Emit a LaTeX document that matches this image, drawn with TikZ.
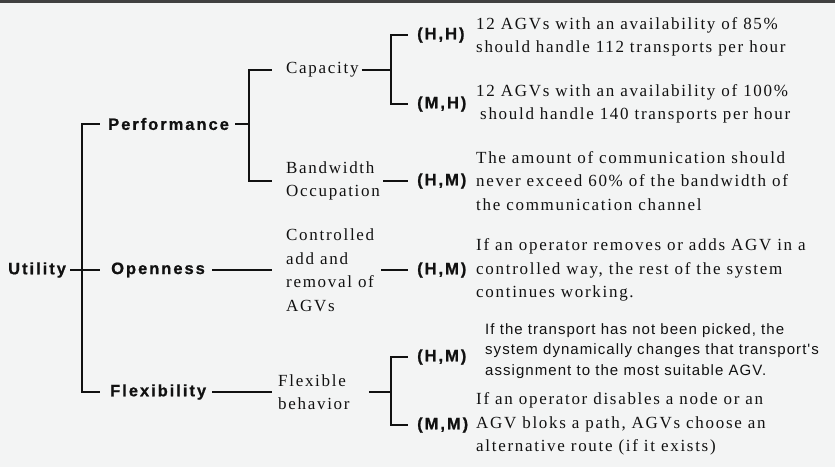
\documentclass[tikz,border=0pt]{standalone}
\usepackage{fontspec}
\setmainfont{Liberation Serif}
\newfontfamily\spacedserif[LetterSpace=10]{Liberation Serif}
\newfontfamily\spacedsans[LetterSpace=12, BoldFeatures={FakeBold=0.8}]{Liberation Sans}
\newfontfamily\plainsans[LetterSpace=7]{Liberation Sans}
\definecolor{paper}{HTML}{F3F4F4}
\definecolor{ink}{HTML}{111111}

\begin{document}
\begin{tikzpicture}[x=1pt, y=-1pt,
    wire/.style={line width=1.7pt, draw=ink},
    crit/.style={inner sep=0pt, anchor=west, text=ink, font=\spacedsans\bfseries\fontsize{16.5}{18}\selectfont},
    item/.style={inner sep=0pt, anchor=west, align=left, text=ink, font=\spacedserif\fontsize{17}{23.5}\selectfont},
    note/.style={inner sep=0pt, anchor=west, align=left, text=ink, font=\plainsans\fontsize{15}{20.5}\selectfont}]
  \fill[paper] (0,0) rectangle (835,467);
  \fill[black!75] (0,0) rectangle (835,2.5);
  \useasboundingbox (0,0) rectangle (835,467);

  % quality attributes
  \node[crit] (utility) at (8,270) {Utility};
  \node[crit] (perf) at (108,124) {Performance};
  \node[crit] (open) at (111,270) {Openness};
  \node[crit] (flex) at (110,392) {Flexibility};

  % refinements
  \node[item] (cap) at (286,70) {Capacity};
  \node[item] (bw) at (286,181) {Bandwidth\\Occupation};
  \node[item] (ctrl) at (286,270) {Controlled\\add and\\removal of\\AGVs};
  \node[item] (fb) at (278,392) {Flexible\\behavior};

  % priorities
  \node[crit] (hh) at (417,35) {(H,H)};
  \node[crit] (mh) at (417,104) {(M,H)};
  \node[crit] (hm1) at (417,181) {(H,M)};
  \node[crit] (hm2) at (417,270) {(H,M)};
  \node[crit] (hm3) at (417,357) {(H,M)};
  \node[crit] (mm) at (417,425) {(M,M)};

  % scenarios
  \node[item] (s1) at (476,37) {12 AGVs with an availability of 85\%\\should handle 112 transports per hour};
  \node[item] (s2) at (476,104) {12 AGVs with an availability of 100\%\\\hspace*{4pt}should handle 140 transports per hour};
  \node[item] (s3) at (476,181) {The amount of communication should\\never exceed 60\% of the bandwidth of\\the communication channel};
  \node[item] (s4) at (476,270) {If an operator removes or adds AGV in a\\controlled way, the rest of the system\\continues working.};
  \node[note] (s5) at (485,351) {If the transport has not been picked, the\\system dynamically changes that transport's\\assignment to the most suitable AGV.};
  \node[item] (s6) at (476,424) {If an operator disables a node or an\\AGV bloks a path, AGVs choose an\\alternative route (if it exists)};

  % junctions
  \coordinate (uj) at (82,270);
  \coordinate (pj) at (249,124);
  \coordinate (cj) at (391,70);
  \coordinate (fj) at (391,392);

  \draw[wire, shorten <=4pt, shorten >=11pt] (utility) -- (open);
  \draw[wire, shorten >=8pt] (uj) |- (perf.west);
  \draw[wire, shorten >=10pt] (uj) |- (flex.west);

  \draw[wire, shorten <=6pt] (perf.east) -- (pj);
  \draw[wire, shorten >=14pt] (pj) |- (cap.west);
  \draw[wire, shorten >=14pt] (pj) |- (bw.west);

  \draw[wire, shorten <=3pt] (cap.east) -- (cj);
  \draw[wire, shorten >=9pt] (cj) |- (hh.west);
  \draw[wire, shorten >=9pt] (cj) |- (mh.west);
  \draw[wire, shorten <=3pt, shorten >=9pt] (bw) -- (hm1);

  \draw[wire, shorten <=7pt, shorten >=14pt] (open) -- (ctrl);
  \draw[wire, shorten <=7pt, shorten >=9pt] (ctrl) -- (hm2);

  \draw[wire, shorten <=6pt, shorten >=6pt] (flex) -- (fb);
  \draw[wire, shorten <=19pt] (fb.east) -- (fj);
  \draw[wire, shorten >=9pt] (fj) |- (hm3.west);
  \draw[wire, shorten >=9pt] (fj) |- (mm.west);
\end{tikzpicture}
\end{document}
